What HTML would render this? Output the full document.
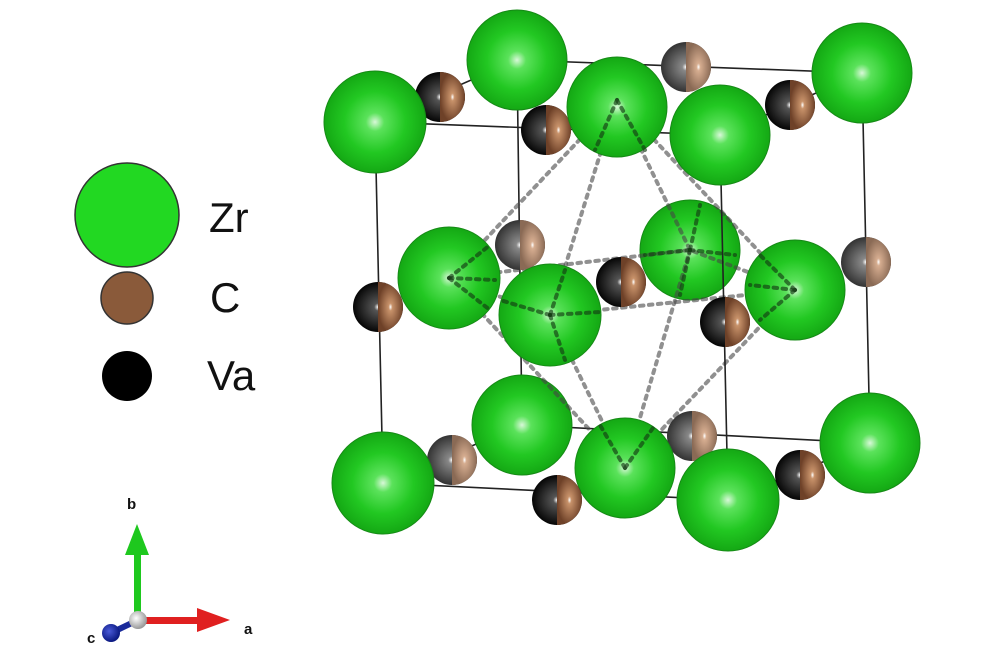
<!DOCTYPE html>
<html><head><meta charset="utf-8"><style>html,body{margin:0;padding:0;background:#fff}svg{display:block}</style></head>
<body>
<svg width="1000" height="659" viewBox="0 0 1000 659" xmlns="http://www.w3.org/2000/svg">
<defs>
<radialGradient id="g" cx="0.5" cy="0.5" r="0.5" fx="0.5" fy="0.5">
<stop offset="0" stop-color="#d8f8d8"/><stop offset="0.18" stop-color="#5be25b"/><stop offset="0.6" stop-color="#22c822"/><stop offset="1" stop-color="#14a814"/></radialGradient>
<radialGradient id="gb" cx="0.5" cy="0.5" r="0.5"><stop offset="0" stop-color="#fff"/><stop offset="0.15" stop-color="#c8926a"/><stop offset="1" stop-color="#6e4128"/></radialGradient>
<radialGradient id="gk" cx="0.5" cy="0.5" r="0.5"><stop offset="0" stop-color="#fff"/><stop offset="0.15" stop-color="#555"/><stop offset="1" stop-color="#050505"/></radialGradient>
<radialGradient id="gt" cx="0.5" cy="0.5" r="0.5"><stop offset="0" stop-color="#fff"/><stop offset="0.15" stop-color="#d6ad90"/><stop offset="1" stop-color="#8a6a55"/></radialGradient>
<radialGradient id="gg" cx="0.5" cy="0.5" r="0.5"><stop offset="0" stop-color="#fff"/><stop offset="0.15" stop-color="#888"/><stop offset="1" stop-color="#333"/></radialGradient>
<radialGradient id="gw" cx="0.4" cy="0.4" r="0.6"><stop offset="0" stop-color="#fff"/><stop offset="1" stop-color="#999"/></radialGradient>
<radialGradient id="gbl" cx="0.4" cy="0.4" r="0.6"><stop offset="0" stop-color="#4a5ad8"/><stop offset="1" stop-color="#0a1880"/></radialGradient>
</defs>

<!-- legend -->
<circle cx="127" cy="215" r="52" fill="#22d822" stroke="#333" stroke-width="1.5"/>
<circle cx="127" cy="298" r="26" fill="#8a5a3a" stroke="#333" stroke-width="1.5"/>
<circle cx="127" cy="376" r="25" fill="#000"/>
<g font-family="Liberation Sans, sans-serif" font-size="42" fill="#111">
<text x="209" y="232">Zr</text><text x="210" y="312">C</text><text x="207" y="390">Va</text></g>

<!-- axes -->
<rect x="134" y="552" width="7" height="68" fill="#1ec81e"/>
<polygon points="137,524 125,555 149,555" fill="#1ec81e"/>
<rect x="138" y="617" width="62" height="7" fill="#e02020"/>
<polygon points="230,620 197,608 197,632" fill="#e02020"/>
<line x1="138" y1="620" x2="113" y2="632" stroke="#1a2a9a" stroke-width="6"/>
<circle cx="111" cy="633" r="9" fill="url(#gbl)"/>
<circle cx="138" cy="620" r="9" fill="url(#gw)"/>
<g font-family="Liberation Sans, sans-serif" font-size="15" font-weight="bold" fill="#111">
<text x="127" y="509">b</text><text x="244" y="634">a</text><text x="87" y="643">c</text></g>

<!-- back cube edges -->
<g stroke="#222" stroke-width="1.6" fill="none">
<polyline points="517,60 862,73 870,443 522,425 517,60"/>
<line x1="375" y1="122" x2="517" y2="60"/><line x1="720" y1="135" x2="862" y2="73"/>
<line x1="383" y1="483" x2="522" y2="425"/><line x1="728" y1="500" x2="870" y2="443"/>
</g>

<!-- back atoms -->
<g>
<circle cx="517" cy="60" r="50" fill="url(#g)" stroke="#168a16"/>
<circle cx="862" cy="73" r="50" fill="url(#g)" stroke="#168a16"/>
<circle cx="870" cy="443" r="50" fill="url(#g)" stroke="#168a16"/>
<circle cx="522" cy="425" r="50" fill="url(#g)" stroke="#168a16"/>
<circle cx="690" cy="250" r="50" fill="url(#g)" stroke="#168a16"/>
</g>

<!-- dotted octahedron -->
<g stroke="rgba(70,70,70,0.6)" stroke-width="4" stroke-dasharray="3.5 5.5" stroke-linecap="round" fill="none">
<line x1="617" y1="100" x2="449" y2="278"/><line x1="617" y1="100" x2="550" y2="315"/>
<line x1="617" y1="100" x2="795" y2="290"/><line x1="617" y1="100" x2="690" y2="250"/>
<line x1="625" y1="468" x2="449" y2="278"/><line x1="625" y1="468" x2="550" y2="315"/>
<line x1="625" y1="468" x2="795" y2="290"/><line x1="625" y1="468" x2="690" y2="250"/>
<polyline points="449,278 550,315 795,290 690,250 449,278"/>
</g>

<!-- front cube edges -->
<g stroke="#222" stroke-width="1.6" fill="none">
<polyline points="375,122 720,135 728,500 383,483 375,122"/>
</g>

<!-- small half spheres -->
<g>
<g transform="translate(440,97)"><circle r="25" fill="url(#gk)"/><path d="M0,-25 A25,25 0 0 1 0,25 Z" fill="url(#gb)"/></g>
<g transform="translate(686,67)"><circle r="25" fill="url(#gg)"/><path d="M0,-25 A25,25 0 0 1 0,25 Z" fill="url(#gt)"/></g>
<g transform="translate(546,130)"><circle r="25" fill="url(#gk)"/><path d="M0,-25 A25,25 0 0 1 0,25 Z" fill="url(#gb)"/></g>
<g transform="translate(790,105)"><circle r="25" fill="url(#gk)"/><path d="M0,-25 A25,25 0 0 1 0,25 Z" fill="url(#gb)"/></g>
<g transform="translate(520,245)"><circle r="25" fill="url(#gg)"/><path d="M0,-25 A25,25 0 0 1 0,25 Z" fill="url(#gt)"/></g>
<g transform="translate(866,262)"><circle r="25" fill="url(#gg)"/><path d="M0,-25 A25,25 0 0 1 0,25 Z" fill="url(#gt)"/></g>
<g transform="translate(378,307)"><circle r="25" fill="url(#gk)"/><path d="M0,-25 A25,25 0 0 1 0,25 Z" fill="url(#gb)"/></g>
<g transform="translate(621,282)"><circle r="25" fill="url(#gk)"/><path d="M0,-25 A25,25 0 0 1 0,25 Z" fill="url(#gb)"/></g>
<g transform="translate(692,436)"><circle r="25" fill="url(#gg)"/><path d="M0,-25 A25,25 0 0 1 0,25 Z" fill="url(#gt)"/></g>
<g transform="translate(452,460)"><circle r="25" fill="url(#gg)"/><path d="M0,-25 A25,25 0 0 1 0,25 Z" fill="url(#gt)"/></g>
</g>

<!-- front atoms -->
<g>
<circle cx="375" cy="122" r="51" fill="url(#g)" stroke="#168a16"/>
<circle cx="617" cy="107" r="50" fill="url(#g)" stroke="#168a16"/>
<circle cx="720" cy="135" r="50" fill="url(#g)" stroke="#168a16"/>
<circle cx="449" cy="278" r="51" fill="url(#g)" stroke="#168a16"/>
<circle cx="795" cy="290" r="50" fill="url(#g)" stroke="#168a16"/>
<circle cx="550" cy="315" r="51" fill="url(#g)" stroke="#168a16"/>
<circle cx="625" cy="468" r="50" fill="url(#g)" stroke="#168a16"/>
<circle cx="383" cy="483" r="51" fill="url(#g)" stroke="#168a16"/>
<circle cx="728" cy="500" r="51" fill="url(#g)" stroke="#168a16"/>
</g>

<!-- front small spheres -->
<g>
<g transform="translate(725,322)"><circle r="25" fill="url(#gk)"/><path d="M0,-25 A25,25 0 0 1 0,25 Z" fill="url(#gb)"/></g>
<g transform="translate(557,500)"><circle r="25" fill="url(#gk)"/><path d="M0,-25 A25,25 0 0 1 0,25 Z" fill="url(#gb)"/></g>
<g transform="translate(800,475)"><circle r="25" fill="url(#gk)"/><path d="M0,-25 A25,25 0 0 1 0,25 Z" fill="url(#gb)"/></g>
</g>

<!-- dotted overlays on front atoms -->
<g stroke="rgba(20,60,20,0.65)" stroke-width="4" stroke-dasharray="3.5 5.5" stroke-linecap="round" fill="none">
<line x1="617" y1="100" x2="595" y2="150"/><line x1="617" y1="100" x2="645" y2="150"/>
<line x1="625" y1="468" x2="600" y2="425"/><line x1="625" y1="468" x2="655" y2="425"/>
<line x1="550" y1="315" x2="500" y2="300"/><line x1="550" y1="315" x2="600" y2="312"/>
<line x1="550" y1="315" x2="565" y2="270"/><line x1="550" y1="315" x2="565" y2="360"/>
<line x1="449" y1="278" x2="495" y2="280"/><line x1="449" y1="278" x2="490" y2="245"/><line x1="449" y1="278" x2="490" y2="310"/>
<line x1="795" y1="290" x2="750" y2="285"/><line x1="795" y1="290" x2="760" y2="255"/><line x1="795" y1="290" x2="760" y2="320"/>
<line x1="690" y1="250" x2="645" y2="255"/><line x1="690" y1="250" x2="735" y2="255"/><line x1="690" y1="250" x2="700" y2="205"/><line x1="690" y1="250" x2="680" y2="295"/>
</g>
</svg>
</body></html>
